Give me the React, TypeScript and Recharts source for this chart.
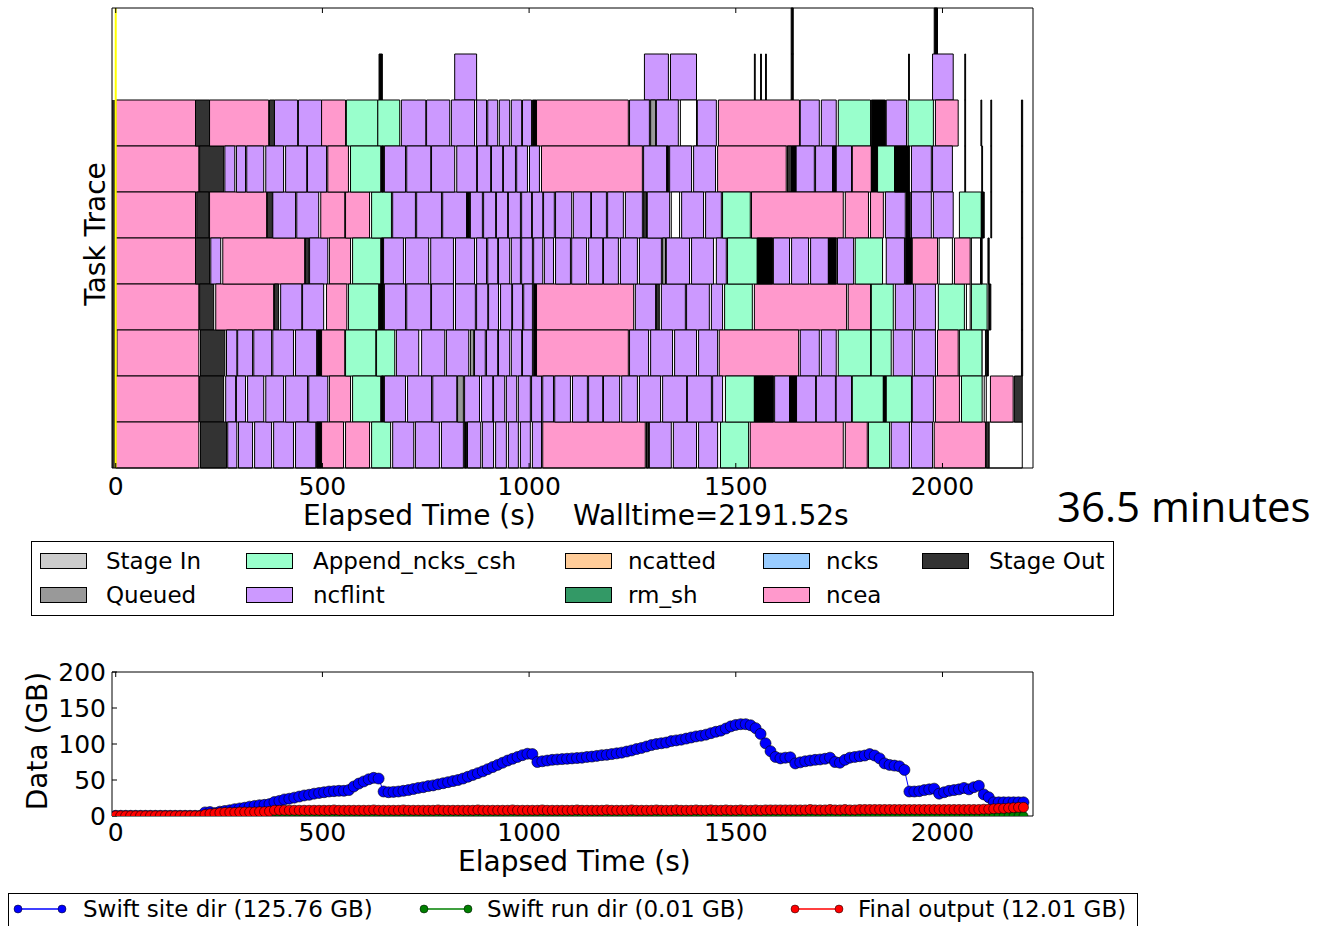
import React from "react";
import { BarChart, Bar, Cell, XAxis, YAxis, ReferenceLine, ReferenceArea, LineChart, Line } from "recharts";

const FONT = "DejaVu Sans";

// task trace: [start s, end s, type] per row, top row first
type Seg = [number, number, string];

const row0: Seg[] = [[1634, 1639, "k"], [1980, 1988, "k"]];
const row1: Seg[] = [
  [637, 645, "k"], [820, 873, "v"], [1279, 1337, "v"], [1342, 1405, "v"], [1545, 1547, "k"], [1560, 1562, "k"],
  [1572, 1574, "k"], [1634, 1639, "k"], [1918, 1920, "k"], [1976, 2026, "v"], [2054, 2056, "k"],
];
const row2: Seg[] = [
  [0, 193, "p"], [193, 227, "d"], [227, 370, "p"], [372, 384, "d"], [384, 440, "v"], [442, 498, "v"], [498, 556, "p"],
  [558, 634, "g"], [634, 687, "g"], [691, 750, "v"], [752, 808, "v"], [812, 868, "v"], [873, 897, "v"], [900, 924, "v"],
  [928, 953, "v"], [957, 982, "v"], [984, 1006, "v"], [1008, 1018, "k"], [1018, 1240, "p"], [1243, 1291, "v"],
  [1294, 1306, "q"], [1308, 1361, "v"], [1366, 1405, "w"], [1407, 1453, "v"], [1458, 1654, "p"], [1656, 1702, "v"],
  [1707, 1743, "v"], [1748, 1826, "g"], [1828, 1862, "k"], [1864, 1913, "v"], [1917, 1978, "g"], [1983, 2038, "p"],
  [2054, 2056, "k"], [2093, 2095, "k"], [2117, 2119, "k"], [2191, 2194, "k"],
];
const row3: Seg[] = [
  [0, 201, "p"], [203, 261, "d"], [264, 288, "v"], [292, 314, "v"], [317, 358, "v"], [363, 406, "v"], [411, 462, "v"],
  [464, 510, "v"], [513, 563, "p"], [568, 641, "g"], [643, 648, "k"], [650, 701, "v"], [704, 762, "v"], [764, 820, "v"],
  [825, 873, "v"], [875, 907, "v"], [909, 936, "v"], [938, 967, "v"], [970, 996, "v"], [1001, 1025, "v"],
  [1030, 1274, "p"], [1277, 1333, "v"], [1333, 1337, "k"], [1340, 1393, "v"], [1398, 1451, "v"], [1456, 1622, "p"],
  [1625, 1635, "d"], [1635, 1646, "k"], [1646, 1690, "v"], [1693, 1734, "v"], [1734, 1743, "k"], [1743, 1780, "v"],
  [1782, 1828, "p"], [1828, 1843, "k"], [1843, 1884, "g"], [1884, 1920, "k"], [1925, 1973, "v"], [1976, 2024, "v"],
  [2054, 2056, "k"], [2095, 2097, "k"], [2117, 2119, "k"], [2191, 2194, "k"],
];
const row4: Seg[] = [
  [0, 193, "p"], [196, 225, "d"], [227, 365, "p"], [367, 379, "d"], [380, 435, "v"], [438, 491, "v"], [496, 554, "p"],
  [556, 614, "p"], [619, 667, "g"], [670, 725, "v"], [728, 788, "v"], [791, 849, "v"], [849, 856, "k"], [858, 887, "v"],
  [890, 919, "v"], [921, 948, "v"], [950, 979, "v"], [982, 1006, "v"], [1008, 1033, "v"], [1035, 1061, "v"],
  [1064, 1103, "v"], [1107, 1149, "v"], [1151, 1187, "v"], [1190, 1228, "v"], [1233, 1274, "v"], [1277, 1284, "d"],
  [1286, 1340, "v"], [1344, 1364, "w"], [1369, 1422, "v"], [1427, 1465, "v"], [1468, 1535, "g"], [1538, 1760, "p"],
  [1765, 1821, "p"], [1826, 1857, "p"], [1862, 1910, "v"], [1913, 1922, "k"], [1925, 1973, "v"], [1978, 2026, "v"],
  [2041, 2094, "g"], [2094, 2101, "k"], [2117, 2119, "k"], [2191, 2194, "k"],
];
const row5: Seg[] = [
  [0, 193, "p"], [193, 227, "d"], [230, 254, "v"], [259, 457, "p"], [459, 467, "d"], [469, 513, "v"], [517, 568, "p"],
  [573, 641, "g"], [643, 648, "k"], [648, 696, "v"], [701, 757, "v"], [762, 817, "v"], [822, 868, "v"], [873, 897, "v"],
  [900, 924, "v"], [926, 953, "v"], [957, 979, "v"], [982, 1008, "v"], [1011, 1033, "v"], [1037, 1059, "v"],
  [1064, 1100, "v"], [1103, 1139, "v"], [1144, 1178, "v"], [1180, 1216, "v"], [1221, 1262, "v"], [1267, 1320, "v"],
  [1323, 1330, "q"], [1332, 1388, "v"], [1393, 1446, "v"], [1453, 1477, "v"], [1480, 1552, "g"], [1552, 1589, "k"],
  [1591, 1630, "v"], [1635, 1676, "v"], [1681, 1724, "v"], [1724, 1743, "k"], [1746, 1785, "v"], [1789, 1855, "g"],
  [1864, 1908, "v"], [1910, 1925, "k"], [1927, 1988, "p"], [1992, 2024, "w"], [2029, 2067, "p"], [2070, 2092, "w"],
  [2093, 2096, "k"], [2110, 2113, "k"], [2191, 2194, "k"],
];
const row6: Seg[] = [
  [0, 201, "p"], [203, 237, "d"], [242, 382, "p"], [384, 394, "d"], [399, 450, "v"], [452, 503, "v"], [510, 559, "p"],
  [563, 636, "g"], [638, 648, "k"], [650, 701, "v"], [704, 762, "v"], [764, 817, "v"], [822, 870, "v"], [873, 900, "v"],
  [902, 926, "v"], [931, 958, "v"], [960, 984, "v"], [987, 1008, "v"], [1011, 1018, "k"], [1018, 1253, "p"],
  [1257, 1306, "v"], [1308, 1315, "d"], [1320, 1378, "v"], [1381, 1436, "v"], [1441, 1468, "v"], [1473, 1540, "g"],
  [1545, 1768, "p"], [1772, 1826, "p"], [1828, 1881, "g"], [1886, 1930, "v"], [1934, 1983, "v"], [1990, 2053, "g"],
  [2058, 2067, "w"], [2070, 2108, "g"], [2112, 2117, "k"], [2191, 2194, "k"],
];
const row7: Seg[] = [
  [3, 201, "p"], [205, 264, "d"], [268, 293, "v"], [295, 331, "v"], [334, 377, "v"], [380, 430, "v"], [435, 486, "v"],
  [488, 498, "k"], [498, 554, "p"], [556, 629, "g"], [631, 675, "g"], [679, 733, "v"], [740, 796, "v"], [800, 854, "v"],
  [858, 866, "q"], [868, 894, "v"], [897, 924, "v"], [926, 953, "v"], [957, 982, "v"], [984, 1008, "v"],
  [1011, 1018, "k"], [1018, 1240, "p"], [1243, 1289, "v"], [1294, 1347, "v"], [1352, 1405, "v"], [1410, 1456, "v"],
  [1460, 1652, "p"], [1656, 1702, "v"], [1707, 1743, "v"], [1748, 1826, "g"], [1828, 1876, "g"], [1881, 1927, "v"],
  [1932, 1983, "v"], [1988, 2038, "p"], [2041, 2096, "g"], [2096, 2104, "w"], [2106, 2111, "k"], [2191, 2194, "k"],
];
const row8: Seg[] = [
  [0, 201, "p"], [203, 261, "d"], [266, 290, "v"], [292, 314, "v"], [319, 358, "v"], [363, 406, "v"], [411, 464, "v"],
  [467, 513, "v"], [517, 568, "p"], [573, 641, "g"], [643, 648, "k"], [650, 701, "v"], [706, 764, "v"], [767, 825, "v"],
  [827, 841, "q"], [844, 880, "v"], [885, 912, "v"], [914, 941, "v"], [945, 970, "v"], [974, 1003, "v"],
  [1006, 1030, "v"], [1033, 1059, "v"], [1062, 1100, "v"], [1105, 1141, "v"], [1144, 1178, "v"], [1180, 1219, "v"],
  [1224, 1262, "v"], [1267, 1318, "v"], [1323, 1381, "v"], [1383, 1441, "v"], [1444, 1468, "v"], [1475, 1545, "g"],
  [1545, 1591, "k"], [1594, 1630, "v"], [1630, 1647, "k"], [1647, 1693, "v"], [1695, 1741, "v"], [1743, 1780, "v"],
  [1782, 1857, "g"], [1857, 1864, "k"], [1864, 1925, "g"], [1927, 1978, "v"], [1983, 2041, "p"], [2046, 2096, "g"],
  [2101, 2106, "w"], [2116, 2171, "p"], [2174, 2193, "d"],
];
const row9: Seg[] = [
  [0, 201, "p"], [205, 268, "d"], [271, 293, "v"], [297, 331, "v"], [336, 377, "v"], [382, 430, "v"], [435, 484, "v"],
  [486, 498, "k"], [498, 551, "p"], [556, 614, "p"], [619, 665, "g"], [670, 721, "v"], [725, 783, "v"], [788, 841, "v"],
  [844, 849, "k"], [851, 883, "v"], [887, 914, "v"], [919, 945, "v"], [950, 974, "v"], [979, 1003, "v"],
  [1008, 1030, "v"], [1033, 1281, "p"], [1284, 1289, "d"], [1291, 1344, "v"], [1349, 1405, "v"], [1410, 1456, "v"],
  [1463, 1531, "g"], [1535, 1760, "p"], [1765, 1818, "p"], [1821, 1872, "g"], [1876, 1920, "v"], [1925, 1976, "v"],
  [1980, 2104, "p"], [2106, 2113, "d"], [2113, 2193, "w"],
];

const traceRows = [row0, row1, row2, row3, row4, row5, row6, row7, row8, row9];

const taskColors: Record<string, string> = {
  p: "#ff99cc", v: "#cc99ff", g: "#99ffcc", d: "#333333", q: "#999999", k: "#000000", w: "#ffffff",
};

// legend of the trace (column major, 2 per column)
const taskNames = ["Stage In", "Queued", "Append_ncks_csh", "ncflint", "ncatted", "rm_sh", "ncks", "ncea", "Stage Out"];
const taskLegendColors = ["#cccccc", "#999999", "#99ffcc", "#cc99ff", "#ffcc99", "#339966", "#99ccff", "#ff99cc", "#333333"];

// data usage, sampled every 12 s
const times = [
  0, 12, 24, 36, 48, 60, 72, 84, 96, 108,
  120, 132, 144, 156, 168, 180, 192, 204, 216, 228,
  240, 252, 264, 276, 288, 300, 312, 324, 336, 348,
  360, 372, 384, 396, 408, 420, 432, 444, 456, 468,
  480, 492, 504, 516, 528, 540, 552, 564, 576, 588,
  600, 612, 624, 636, 648, 660, 672, 684, 696, 708,
  720, 732, 744, 756, 768, 780, 792, 804, 816, 828,
  840, 852, 864, 876, 888, 900, 912, 924, 936, 948,
  960, 972, 984, 996, 1008, 1020, 1032, 1044, 1056, 1068,
  1080, 1092, 1104, 1116, 1128, 1140, 1152, 1164, 1176, 1188,
  1200, 1212, 1224, 1236, 1248, 1260, 1272, 1284, 1296, 1308,
  1320, 1332, 1344, 1356, 1368, 1380, 1392, 1404, 1416, 1428,
  1440, 1452, 1464, 1476, 1488, 1500, 1512, 1524, 1536, 1548,
  1560, 1572, 1584, 1596, 1608, 1620, 1632, 1644, 1656, 1668,
  1680, 1692, 1704, 1716, 1728, 1740, 1752, 1764, 1776, 1788,
  1800, 1812, 1824, 1836, 1848, 1860, 1872, 1884, 1896, 1908,
  1920, 1932, 1944, 1956, 1968, 1980, 1992, 2004, 2016, 2028,
  2040, 2052, 2064, 2076, 2088, 2100, 2112, 2124, 2136, 2148,
  2160, 2172, 2184, 2196,
];
const siteDir = [
  0.3, 0.3, 0.3, 0.3, 0.3, 0.3, 0.3, 0.3, 0.3, 0.3,
  0.3, 0.3, 0.3, 0.3, 0.3, 0.3, 0.3, 0.3, 5, 5.5,
  4, 6, 7, 8, 9.5, 10.5, 11.5, 13, 14, 15,
  15.5, 16.5, 19.5, 21, 23, 24, 25.5, 27, 28.5, 29.5,
  31, 32, 33, 34, 34.5, 35, 35, 36, 41, 45,
  48, 51, 53, 52, 34, 33, 33.5, 34, 35, 36,
  37.5, 39, 40, 41.5, 42.5, 44, 45.5, 47, 48.5, 50,
  52, 54.5, 57, 59.5, 62, 65, 68, 71, 74, 77,
  79.5, 82, 84.5, 86.5, 86, 75, 76, 77, 78, 78.5,
  79, 79.5, 80, 80.5, 81, 82, 82.5, 83.5, 84.5, 85,
  86, 87, 88, 89.5, 91, 93, 94.5, 96.5, 98.5, 100,
  101, 102, 104, 105, 106, 107.5, 109, 110.5, 111.5, 113,
  115, 117, 118.5, 121.5, 124.5, 126.5, 127.5, 127.5, 126, 122,
  114, 101, 90, 82, 80, 81, 81.5, 73, 74.5, 76,
  77, 78, 78.5, 79.5, 81, 75, 74, 78, 81, 82,
  83, 84, 86, 84, 80, 73, 71, 70, 69, 64,
  34, 34, 34.5, 36, 37, 38, 31, 33, 35, 36,
  37, 39, 37, 40, 42, 30, 26, 19, 19, 19,
  19, 19, 19, 19,
];
const runDir = [
  0, 0, 0, 0, 0, 0, 0, 0, 0, 0, 0, 0, 0, 0, 0, 0, 0, 0, 0, 0,
  0, 0, 0, 0, 0, 0, 0, 0, 0, 0, 0, 0, 0, 0, 0, 0, 0, 0, 0, 0,
  0, 0, 0, 0, 0, 0, 0, 0, 0, 0, 0, 0, 0, 0, 0, 0, 0, 0, 0, 0,
  0, 0, 0, 0, 0, 0, 0, 0, 0, 0, 0, 0, 0, 0, 0, 0, 0, 0, 0, 0,
  0, 0, 0, 0, 0, 0, 0, 0, 0, 0, 0, 0, 0, 0, 0, 0, 0, 0, 0, 0,
  0, 0, 0, 0, 0, 0, 0, 0, 0, 0, 0, 0, 0, 0, 0, 0, 0, 0, 0, 0,
  0, 0, 0, 0, 0, 0, 0, 0, 0, 0, 0, 0, 0, 0, 0, 0, 0, 0, 0, 0,
  0, 0, 0, 0, 0, 0, 0, 0, 0, 0, 0, 0, 0, 0, 0, 0, 0, 0, 0, 0,
  0, 0, 0, 0, 0, 0, 0, 0, 0, 0, 0, 0, 0, 0, 0, 0, 0, 0, 0, 0,
  0, 0, 0, 0,
];
const finalOutput = [
  0.2, 0.2, 0.2, 0.2, 0.2, 0.2, 0.2, 0.2, 0.2, 0.2,
  0.2, 0.2, 0.2, 0.2, 0.2, 0.2, 0.2, 0.2, 2, 3,
  3.5, 4.5, 5, 5, 5, 5.5, 5.5, 5.5, 5.5, 6,
  6, 6.5, 8, 8, 8, 8, 8, 8, 8, 8,
  8, 8, 8, 8, 8.5, 8, 8, 8, 8, 8,
  8, 8, 8.5, 8, 8, 8, 8, 8, 8.5, 8,
  8, 8, 8, 8, 8, 8.5, 8, 8, 8, 8,
  8, 8, 8, 8.5, 8, 8, 8, 8, 8, 8,
  8.5, 8, 8, 8, 8, 8, 8.5, 8, 8, 8,
  8, 8, 8, 8.5, 8, 8, 8, 8, 8, 8.5,
  8, 8, 8, 8, 8.5, 8, 8, 8, 8, 8.5,
  8, 8, 8, 8.5, 8, 8, 8, 8.5, 8, 8,
  8.5, 8, 8, 8.5, 8, 8, 8.5, 8, 8, 8.5,
  8, 8.5, 8.5, 8.5, 8.5, 8.5, 8.5, 8.5, 8.5, 8.5,
  9, 8.5, 8.5, 8.5, 9, 8.5, 8.5, 9, 8.5, 8.5,
  9, 9, 9, 9, 9, 9, 9, 9, 9, 9,
  9, 9, 9, 9, 9, 9, 9, 9, 9, 9,
  9, 9, 9, 9, 9, 9.5, 9.5, 10, 10.5, 10.5,
  11, 11.5, 12, 12,
];

const xTicks = [0, 500, 1000, 1500, 2000];
const yTicks = [0, 50, 100, 150, 200];

const maxSegs = Math.max(...traceRows.map((r) => r.length));

// stacked gaps + tasks so every segment sits at its own start time
const traceData = traceRows.map((segs, r) => {
  const d: Record<string, any> = { row: `r${r}` };
  let prev = 0;
  for (let i = 0; i < maxSegs; i++) {
    const seg = segs[i];
    if (!seg) {
      d[`g${i}`] = 0;
      d[`s${i}`] = 0;
      d[`k${i}`] = "";
      continue;
    }
    const start = Math.max(seg[0], prev);
    const len = Math.max(0, seg[1] - start);
    d[`g${i}`] = start - prev;
    d[`s${i}`] = len;
    d[`k${i}`] = seg[2];
    prev = start + len;
  }
  return d;
});

const usageData = times.map((t, i) => ({ t, site: siteDir[i], run: runDir[i], out: finalOutput[i] }));

const tickStyle = { fontSize: 25, fill: "#000", fontFamily: FONT };
const axisLine = { stroke: "#000", strokeWidth: 1 };

const Txt = ({ x, y, size, children, family = FONT }: any) => (
  <div
    style={{
      position: "absolute", left: x, top: y - size * 0.48, fontSize: size, fontFamily: family,
      lineHeight: 1, whiteSpace: "pre", color: "#000",
    }}
  >
    {children}
  </div>
);

const VTxt = ({ x, y, size, children }: any) => (
  <div
    style={{
      position: "absolute", left: x, top: y, fontSize: size, fontFamily: FONT, lineHeight: 1,
      whiteSpace: "pre", transform: "translate(-50%, -50%) rotate(-90deg)", color: "#000",
    }}
  >
    {children}
  </div>
);

const legendCols = [
  [40, 106],
  [246, 313],
  [565, 628],
  [763, 826],
  [922, 989],
];
const legendRowsY = [561, 595];

const usageLegend = [
  { label: "Swift site dir (125.76 GB)", color: "#0000ff", x: 18, tx: 83 },
  { label: "Swift run dir (0.01 GB)", color: "#008000", x: 424, tx: 487 },
  { label: "Final output (12.01 GB)", color: "#ff0000", x: 795, tx: 858 },
];

export default function App() {
  return (
    <div style={{ position: "absolute", left: 0, top: 0, width: 1318, height: 926, overflow: "hidden", background: "#fff" }}>
      <div style={{ position: "absolute", left: 0, top: 0 }}>
        <BarChart
          width={1040}
          height={530}
          data={traceData}
          layout="vertical"
          margin={{ top: 7, right: 6, left: 111, bottom: 32 }}
          barCategoryGap={0}
          barGap={0}
        >
          <XAxis
            type="number"
            domain={[-9, 2219]}
            ticks={xTicks}
            allowDataOverflow
            height={30}
            tickSize={-5}
            tickMargin={14}
            tick={tickStyle}
            axisLine={axisLine}
            tickLine={{ stroke: "#000" }}
          />
          <XAxis
            xAxisId="top"
            orientation="top"
            type="number"
            domain={[-9, 2219]}
            ticks={xTicks}
            allowDataOverflow
            height={1}
            tickSize={-5}
            tickFormatter={() => ""}
            axisLine={axisLine}
            tickLine={{ stroke: "#000" }}
          />
          <YAxis type="category" dataKey="row" width={1} tick={false} tickLine={false} axisLine={axisLine} />
          <YAxis
            yAxisId="right"
            orientation="right"
            type="category"
            dataKey="row"
            width={1}
            tick={false}
            tickLine={false}
            axisLine={axisLine}
          />
          <ReferenceArea x1={-9} x2={0} y1="r2" y2="r9" fill="#333333" fillOpacity={1} stroke="none" />
          {Array.from({ length: maxSegs }, (_, i) => [
            <Bar key={`g${i}`} dataKey={`g${i}`} stackId="t" fill="transparent" isAnimationActive={false} />,
            <Bar key={`s${i}`} dataKey={`s${i}`} stackId="t" isAnimationActive={false}>
              {traceData.map((d, r) => (
                <Cell
                  key={r}
                  fill={taskColors[d[`k${i}`]] ?? "none"}
                  stroke={d[`k${i}`] ? "#000" : "none"}
                  strokeWidth={1}
                />
              ))}
            </Bar>,
          ])}
          <ReferenceLine x={0} stroke="#ffff00" strokeWidth={2} />
        </BarChart>
      </div>

      <VTxt x={96} y={234} size={28}>Task Trace</VTxt>
      <Txt x={303} y={515} size={28}>Elapsed Time (s)</Txt>
      <Txt x={573} y={515} size={28}>Walltime=2191.52s</Txt>
      <Txt x={1057} y={505} size={42} family="Open Sans">36.5 minutes</Txt>

      <div
        style={{
          position: "absolute", left: 31, top: 541, width: 1083, height: 75, border: "1px solid #000",
          boxSizing: "border-box",
        }}
      />
      {taskNames.map((name, i) => {
        const [px, tx] = legendCols[Math.floor(i / 2)];
        const cy = legendRowsY[i % 2];
        return (
          <React.Fragment key={name}>
            <div
              style={{
                position: "absolute", left: px, top: cy - 8, width: 47, height: 16, background: taskLegendColors[i],
                border: "1px solid #000", boxSizing: "border-box",
              }}
            />
            <Txt x={tx} y={cy} size={23}>{name}</Txt>
          </React.Fragment>
        );
      })}

      <div style={{ position: "absolute", left: 0, top: 600 }}>
        <LineChart width={1040} height={270} data={usageData} margin={{ top: 71, right: 6, left: 111, bottom: 24 }}>
          <XAxis
            dataKey="t"
            type="number"
            domain={[-9, 2219]}
            ticks={xTicks}
            allowDataOverflow
            height={30}
            tickSize={-5}
            tickMargin={12}
            tick={tickStyle}
            axisLine={axisLine}
            tickLine={{ stroke: "#000" }}
          />
          <XAxis
            xAxisId="top"
            orientation="top"
            dataKey="t"
            type="number"
            domain={[-9, 2219]}
            ticks={xTicks}
            allowDataOverflow
            height={1}
            tickSize={-5}
            tickFormatter={() => ""}
            axisLine={axisLine}
            tickLine={{ stroke: "#000" }}
          />
          <YAxis
            type="number"
            domain={[0, 200]}
            ticks={yTicks}
            allowDataOverflow
            width={1}
            tickSize={-5}
            tickMargin={11}
            tick={tickStyle}
            axisLine={axisLine}
            tickLine={{ stroke: "#000" }}
          />
          <YAxis
            yAxisId="right"
            orientation="right"
            type="number"
            domain={[0, 200]}
            ticks={yTicks}
            width={1}
            tickSize={-5}
            tickFormatter={() => ""}
            axisLine={axisLine}
            tickLine={{ stroke: "#000" }}
          />
          <Line
            dataKey="site"
            stroke="#0000ff"
            strokeWidth={1}
            dot={{ r: 5.5, fill: "#0000ff", stroke: "#000", strokeWidth: 0.6 }}
            isAnimationActive={false}
          />
          <Line
            dataKey="run"
            stroke="#008000"
            strokeWidth={1}
            dot={{ r: 4.5, fill: "#008000", stroke: "#000", strokeWidth: 0.6 }}
            isAnimationActive={false}
          />
          <Line
            dataKey="out"
            stroke="#ff0000"
            strokeWidth={1}
            dot={{ r: 5, fill: "#ff0000", stroke: "#000", strokeWidth: 0.6 }}
            isAnimationActive={false}
          />
        </LineChart>
      </div>

      <VTxt x={38} y={741} size={28}>Data (GB)</VTxt>
      <Txt x={458} y={861} size={28}>Elapsed Time (s)</Txt>

      <div
        style={{
          position: "absolute", left: 8, top: 893, width: 1130, height: 45, border: "1px solid #000",
          boxSizing: "border-box",
        }}
      />
      {usageLegend.map((item) => (
        <React.Fragment key={item.label}>
          <svg style={{ position: "absolute", left: item.x - 5, top: 902 }} width={55} height={14}>
            <line x1={5} y1={7} x2={49} y2={7} stroke={item.color} strokeWidth={1.5} />
            <circle cx={5} cy={7} r={4} fill={item.color} stroke="#000" strokeWidth={0.5} />
            <circle cx={49} cy={7} r={4} fill={item.color} stroke="#000" strokeWidth={0.5} />
          </svg>
          <Txt x={item.tx} y={909} size={23}>{item.label}</Txt>
        </React.Fragment>
      ))}
    </div>
  );
}
